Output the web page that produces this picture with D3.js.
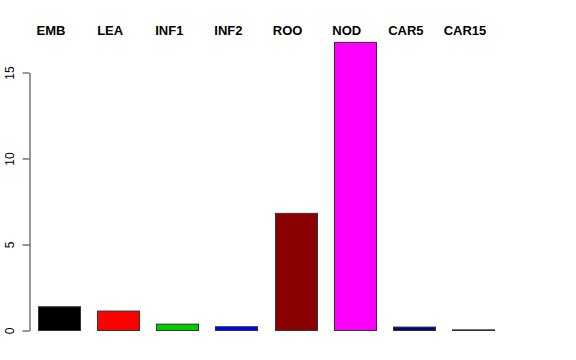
<!DOCTYPE html>
<html>
<head>
<meta charset="utf-8">
<script src="https://cdn.jsdelivr.net/npm/d3@7"></script>
<style>
  body { margin: 0; background: #fff; }
  svg { display: block; font-family: "Liberation Sans", Arial, sans-serif; }
</style>
</head>
<body>
<div id="chart"></div>
<script>
// tissue categories and values
var categories = ["EMB", "LEA", "INF1", "INF2", "ROO", "NOD", "CAR5", "CAR15"];
var values = [1.38, 1.13, 0.37, 0.22, 6.81, 16.75, 0.2, 0.04];
var colors = ["#000000", "#ff0000", "#00cd00", "#0000ff", "#8b0000", "#ff00ff", "#000080", "#ffffff"];
var yTicks = [0, 5, 10, 15];

var width = 576, height = 360;

var svg = d3.select("#chart").append("svg")
    .attr("width", width)
    .attr("height", height);

var x = d3.scaleBand()
    .domain(categories)
    .range([29.4, 502.6])
    .paddingInner(0.2875)
    .paddingOuter(0.14375);

var y = d3.scaleLinear()
    .domain([0, 15])
    .range([330.5, 72.5]);

// bars
svg.selectAll(".bar")
    .data(values)
  .enter()
    .append("rect")
    .attr("class", "bar")
    .attr("x", function(d, i) { return Math.round(x(categories[i])) + 0.5; })
    .attr("y", function(d) { return y(d); })
    .attr("width", Math.round(x.bandwidth()))
    .attr("height", function(d) { return y(0) - y(d); })
    .attr("fill", function(d, i) { return colors[i]; })
    .attr("stroke", "#333")
    .attr("stroke-width", 1);

// y axis, R style: line spans the tick range only
var yAxis = d3.axisLeft(y)
    .tickValues(yTicks)
    .tickSize(7)
    .tickSizeOuter(0)
    .tickFormat(d3.format("d"));

var gy = svg.append("g")
    .attr("transform", "translate(29.5,0)")
    .call(yAxis);

gy.select(".domain").attr("stroke", "#333");
gy.selectAll(".tick line").attr("stroke", "#333");
gy.selectAll(".tick text")
    .attr("x", null)
    .attr("dy", null)
    .attr("transform", "translate(-15.5,0) rotate(-90)")
    .attr("text-anchor", "middle")
    .style("font-size", "12px")
    .style("font-family", "Liberation Sans, Arial, sans-serif")
    .attr("fill", "#000");

// category labels along the top
svg.selectAll(".lab")
    .data(categories)
  .enter()
    .append("text")
    .attr("class", "lab")
    .attr("x", function(d) { return x(d) + x.bandwidth() / 2 - 8; })
    .attr("y", 35)
    .attr("text-anchor", "middle")
    .style("font-size", "13px")
    .style("font-weight", "bold")
    .text(function(d) { return d; });
</script>
</body>
</html>
